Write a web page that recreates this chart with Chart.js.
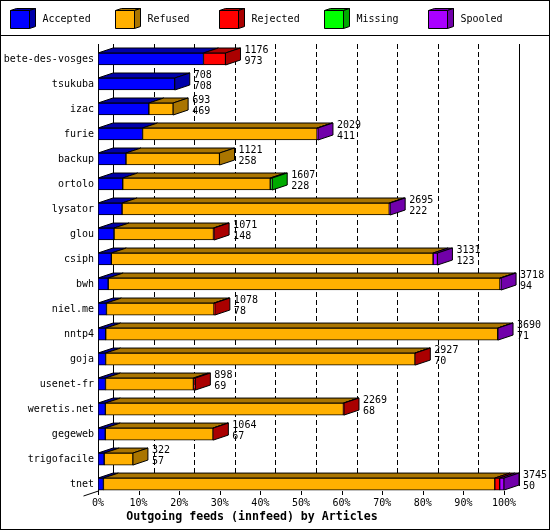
<!DOCTYPE html>
<html><head><meta charset="utf-8">
<script src="https://cdn.jsdelivr.net/npm/chart.js@4"></script>
<style>html,body{margin:0;padding:0;background:#fff}canvas{display:block}</style>
</head><body>
<canvas id="c" width="550" height="530"></canvas>
<script>
const categories = ['bete-des-vosges','tsukuba','izac','furie','backup','ortolo','lysator','glou','csiph','bwh','niel.me','nntp4','goja','usenet-fr','weretis.net','gegeweb','trigofacile','tnet'];
const accepted = [973,708,469,411,258,228,222,148,123,94,78,71,70,69,68,67,57,50];
const refused  = [0,0,224,1610,863,1361,2465,917,2968,3614,992,3616,2854,811,2196,994,265,3610];
const rejected = [203,0,0,0,0,0,0,6,0,0,8,0,3,18,5,3,0,45];
const missing  = [0,0,0,0,0,18,0,0,0,0,0,0,0,0,0,0,0,0];
const spooled  = [0,0,0,8,0,0,8,0,40,10,0,3,0,0,0,0,0,40];
const totals   = [1176,708,693,2029,1121,1607,2695,1071,3131,3718,1078,3690,2927,898,2269,1064,322,3745];
const seriesNames = ['Accepted','Refused','Rejected','Missing','Spooled'];
const tickPercents = [0,10,20,30,40,50,60,70,80,90,100];
const tickLabels = ['0%','10%','20%','30%','40%','50%','60%','70%','80%','90%','100%'];
const axisTitle = 'Outgoing feeds (innfeed) by Articles';

const FRONT = ['#0000FF','#FFB000','#FF0000','#00FF00','#AA00FF'];
const DARK  = ['#0000AA','#AA7500','#AA0000','#00AA00','#7100AA'];
const FAM = '"DejaVu Sans Mono", monospace';
const DX = 15, DY = 5;
const maxTotal = Math.max(...totals);
const seriesData = [accepted, refused, rejected, missing, spooled];

function poly(ctx, pts, fill) {
  ctx.beginPath();
  ctx.moveTo(pts[0][0], pts[0][1]);
  for (let i = 1; i < pts.length; i++) ctx.lineTo(pts[i][0], pts[i][1]);
  ctx.closePath();
  ctx.fillStyle = fill; ctx.fill();
  ctx.strokeStyle = '#000'; ctx.lineWidth = 1; ctx.stroke();
}
function line(ctx, x1, y1, x2, y2) {
  ctx.beginPath(); ctx.moveTo(x1, y1); ctx.lineTo(x2, y2); ctx.stroke();
}

const threeD = {
  id: 'threeD',
  beforeDraw(chart) {
    const ctx = chart.ctx;
    ctx.save(); ctx.fillStyle = '#fff'; ctx.fillRect(0, 0, 550, 530); ctx.restore();
  },
  beforeDatasetsDraw(chart) {
    const ctx = chart.ctx, xs = chart.scales.x;
    const topY = 44, floorY = 491;
    ctx.save();
    ctx.strokeStyle = '#000'; ctx.lineWidth = 1;
    tickPercents.forEach((p, k) => {
      const x = Math.round(xs.getPixelForValue(p / 100 * maxTotal) + DX) + 0.5;
      ctx.setLineDash((k === 0 || k === tickPercents.length - 1) ? [] : [5, 3]);
      line(ctx, x, topY, x, floorY - DY);
    });
    ctx.setLineDash([]);
    const x0 = Math.round(xs.getPixelForValue(0)) + 0.5;
    line(ctx, x0, topY, x0, floorY);
    line(ctx, x0, floorY, x0 - DX, floorY + DY);
    tickPercents.forEach(p => {
      const x = Math.round(xs.getPixelForValue(p / 100 * maxTotal)) + 0.5;
      line(ctx, x, floorY, x, floorY + 4);
    });
    const metas = chart.data.datasets.map((d, i) => chart.getDatasetMeta(i));
    categories.forEach((c, i) => {
      let last = -1, end = 0, top = 0, bottom = 0;
      metas.forEach((m, si) => {
        const el = m.data[i];
        const v = chart.data.datasets[si].data[i];
        if (!v) return;
        const a = Math.min(el.base, el.x), b = Math.max(el.base, el.x);
        const t = el.y - el.height / 2;
        poly(ctx, [[a, t], [b, t], [b + DX, t - DY], [a + DX, t - DY]], DARK[si]);
        last = si; end = b; top = t; bottom = el.y + el.height / 2;
      });
      if (last >= 0) poly(ctx, [[end, top], [end + DX, top - DY], [end + DX, bottom - DY], [end, bottom]], DARK[last]);
    });
    ctx.restore();
  },
  afterDatasetsDraw(chart) {
    const ctx = chart.ctx, xs = chart.scales.x, ys = chart.scales.y;
    ctx.save();
    ctx.fillStyle = '#000';
    ctx.font = '10px ' + FAM;
    ctx.textBaseline = 'middle';
    ctx.textAlign = 'left';
    categories.forEach((c, i) => {
      const xe = xs.getPixelForValue(totals[i]) + DX + 4;
      const yc = ys.getPixelForValue(i);
      ctx.fillText(String(totals[i]), xe, yc - 8.5);
      ctx.fillText(String(accepted[i]), xe, yc + 2.5);
    });
    ctx.restore();
  },
  afterDraw(chart) {
    const ctx = chart.ctx;
    ctx.save();
    ctx.strokeStyle = '#000'; ctx.lineWidth = 1;
    ctx.strokeRect(0.5, 0.5, 549, 529);
    line(ctx, 0, 35.5, 550, 35.5);
    ctx.font = '10px ' + FAM;
    ctx.textBaseline = 'middle';
    ctx.textAlign = 'left';
    seriesNames.forEach((name, i) => {
      const x = Math.round(10 + i * 104.5) + 0.5;
      const y = 10.5, w = 19, h = 18, dx = 6, dy = 2;
      poly(ctx, [[x, y], [x + w, y], [x + w + dx, y - dy], [x + dx, y - dy]], DARK[i]);
      poly(ctx, [[x + w, y], [x + w + dx, y - dy], [x + w + dx, y + h - dy], [x + w, y + h]], DARK[i]);
      poly(ctx, [[x, y], [x + w, y], [x + w, y + h], [x, y + h]], FRONT[i]);
      ctx.fillStyle = '#000';
      ctx.fillText(name, x + 32, 19.5);
    });
    ctx.restore();
  }
};

new Chart(document.getElementById('c'), {
  type: 'bar',
  data: {
    labels: categories,
    datasets: seriesNames.map((n, i) => ({
      label: n,
      data: seriesData[i],
      backgroundColor: FRONT[i],
      borderColor: '#000',
      borderWidth: 1,
      borderSkipped: false,
      barThickness: 12
    }))
  },
  options: {
    indexAxis: 'y',
    responsive: false,
    animation: false,
    events: [],
    devicePixelRatio: 1,
    layout: { padding: { top: 46.5, right: 46, left: 0, bottom: 0 } },
    plugins: {
      legend: { display: false },
      tooltip: { enabled: false },
      title: {
        display: true, position: 'bottom', text: axisTitle, color: '#000',
        font: { family: FAM, size: 11.6, weight: 'bold', lineHeight: 1.2 },
        padding: { top: 0, bottom: 6 }
      }
    },
    scales: {
      x: {
        type: 'linear', stacked: true, min: 0, max: maxTotal,
        grid: { display: false, drawTicks: false },
        border: { display: false },
        afterBuildTicks(s) { s.ticks = tickPercents.map(p => ({ value: p / 100 * maxTotal })); },
        afterFit(s) { s.height = 13.5; },
        ticks: {
          autoSkip: false, maxRotation: 0, minRotation: 0, padding: 1, color: '#000',
          font: { family: FAM, size: 10 },
          callback: (v, idx) => tickLabels[idx]
        }
      },
      y: {
        type: 'category', stacked: true,
        grid: { display: false, drawTicks: false },
        border: { display: false },
        afterFit(s) { s.width = 98; },
        ticks: { padding: 4, color: '#000', font: { family: FAM, size: 10 }, autoSkip: false }
      }
    }
  },
  plugins: [threeD]
});
</script>
</body></html>
